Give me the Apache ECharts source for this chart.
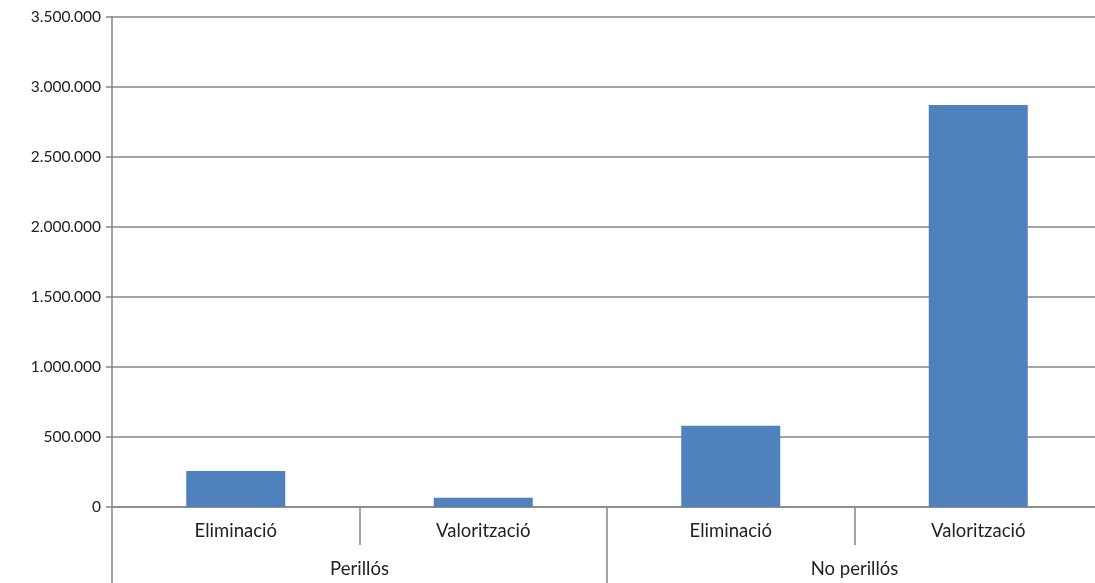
<!DOCTYPE html>
<html>
<head>
<meta charset="utf-8">
<script src="https://cdn.jsdelivr.net/npm/echarts@6/dist/echarts.min.js"></script>
<style>
html,body{margin:0;padding:0;background:#fff;overflow:hidden;}
#chart{width:1095px;height:583px;}
</style>
</head>
<body>
<div id="chart"></div>
<script>
var innerCategories = ['Eliminació', 'Valorització', 'Eliminació', 'Valorització'];
var outerCategories = ['Perillós', 'No perillós'];
var values = [257000, 66000, 581000, 2871000];
var yTicks = { min: 0, max: 3500000, interval: 500000 };

var grey = '#868686';
var font = 'Lato, "Open Sans", sans-serif';
function fmt(v) { return String(v).replace(/\B(?=(\d{3})+(?!\d))/g, '.'); }

var chart = echarts.init(document.getElementById('chart'));
chart.setOption({
  animation: false,
  backgroundColor: '#ffffff',
  grid: { left: 112, width: 990, top: 17, bottom: 76, containLabel: false, outerBoundsMode: 'none' },
  xAxis: [
    {
      type: 'category',
      data: innerCategories,
      position: 'bottom',
      axisLine: { show: true, lineStyle: { color: grey, width: 1.5 } },
      axisTick: { show: true, interval: 0, length: 38, lineStyle: { color: grey, width: 1.5 } },
      axisLabel: { interval: 0, margin: 15, color: '#222', fontSize: 18.5, fontFamily: font },
      splitLine: { show: false }
    },
    {
      type: 'category',
      data: outerCategories,
      position: 'bottom',
      axisLine: { show: false },
      axisTick: { show: true, interval: 0, length: 80, lineStyle: { color: grey, width: 1.5 } },
      axisLabel: { interval: 0, margin: 53, color: '#222', fontSize: 18.5, fontFamily: font },
      splitLine: { show: false }
    }
  ],
  yAxis: {
    type: 'value',
    min: yTicks.min,
    max: yTicks.max,
    interval: yTicks.interval,
    axisLine: { show: true, lineStyle: { color: grey, width: 1.5 } },
    axisTick: { show: true, length: 6, lineStyle: { color: grey, width: 1.5 } },
    axisLabel: { margin: 11, color: '#222', fontSize: 15.5, fontFamily: font, formatter: fmt },
    splitLine: { show: true, lineStyle: { color: grey, width: 1.5 } }
  },
  series: [{
    type: 'bar',
    xAxisIndex: 0,
    data: values,
    barWidth: '40%',
    itemStyle: { color: '#4f81bd' }
  }]
});
</script>
</body>
</html>
